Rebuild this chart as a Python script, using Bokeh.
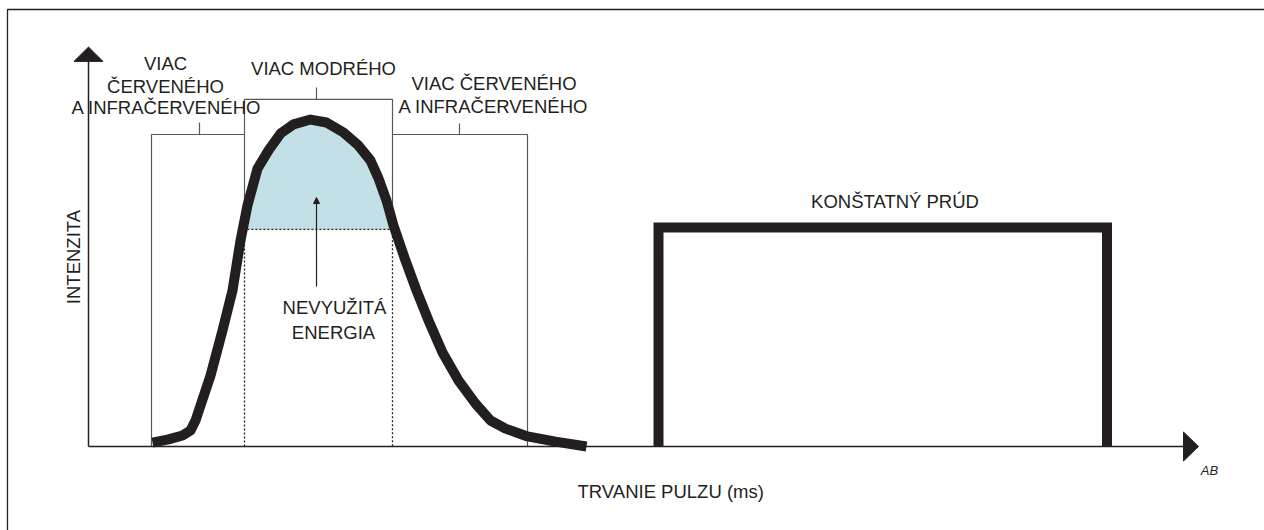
import numpy as np
from bokeh.plotting import figure
from bokeh.models import Range1d, Arrow, NormalHead
from bokeh.core.properties import value
from bokeh.embed import file_html
from bokeh.resources import INLINE

# ---- data (time in ms, relative intensity) ----
pulse_t = [6.4, 8.0, 9.4, 10.2, 10.7, 12.2, 13.4, 14.4, 15.2, 15.9, 16.9, 18.0, 19.2,
           20.5, 22.2, 23.8, 25.5, 27.0, 28.2, 29.0, 29.8, 30.5, 31.7, 32.8, 34.0,
           35.4, 37.0, 38.7, 40.2, 41.7, 43.9, 46.7, 49.8]
pulse_i = [1.2, 2.2, 3.4, 4.9, 8.0, 21.8, 35.7, 48.0, 63.4, 74.2, 85.5, 91.1, 96.3,
           99.1, 100.6, 99.7, 96.6, 92.6, 88.0, 82.5, 75.7, 68.0, 57.2, 48.0, 38.8,
           28.9, 20.3, 13.2, 8.0, 5.5, 3.1, 1.5, 0.0]
unused_level = 66.8
blue_band = [15.6, 30.4]

const_t = [57.0, 57.0, 101.85, 101.85]
const_i = [0.0, 67.4, 67.4, 0.0]

bracket_t = [[6.3, 6.3, 15.6], [15.6, 15.6, 30.4, 30.4], [30.4, 43.9, 43.9]]
bracket_i = [[0.0, 96.0, 96.0], [66.8, 106.8, 106.8, 66.8], [96.0, 96.0, 0.0]]
tick_t = [11.1, 22.8, 37.1]
tick_lo = [96.0, 106.8, 96.0]
tick_hi = [99.7, 110.5, 99.4]

label_text = ["VIAC", "ČERVENÉHO", "A INFRAČERVENÉHO", "VIAC MODRÉHO",
              "VIAC ČERVENÉHO", "A INFRAČERVENÉHO", "KONŠTATNÝ PRÚD",
              "NEVYUŽITÁ", "ENERGIA"]
label_t = [7.7, 7.7, 7.8, 23.5, 40.55, 40.5, 80.65, 24.6, 24.5]
label_i = [117.9, 110.8, 104.4, 116.4, 111.7, 104.7, 75.4, 42.8, 35.1]

x_title = "TRVANIE PULZU (ms)"
y_title = "INTENZITA"

arrow_t = 22.8
arrow_i = [49.2, 76.6]

y_axis_top = 118.5
y_head = 122.9
x_axis_end = 109.5
x_head = 111.0

frame_t = [-8.1, -8.1, 117.6]
frame_i = [-25.85, 134.46, 134.46]

INK = "#231f20"
GREY = "#58595b"
BLUE = "#c3e0e6"
FONT = "Liberation Sans"

p = figure(width=1264, height=530, x_range=Range1d(-8.8, 117.6),
           y_range=Range1d(-25.846, 137.231), output_backend="svg",
           toolbar_location=None, tools="", x_axis_location=None,
           y_axis_location=None, min_border=0, outline_line_color=None,
           background_fill_color="white", border_fill_color="white")
p.grid.visible = False

# page frame
p.line(frame_t, frame_i, line_color=INK, line_width=1.3)

# blue area (energy above the usable level)
t = np.array(pulse_t)
iv = np.array(pulse_i)
above = iv > unused_level
idx = np.where(above)[0]
i0, i1 = idx[0], idx[-1]
tl = np.interp(unused_level, [iv[i0 - 1], iv[i0]], [t[i0 - 1], t[i0]])
tr = np.interp(unused_level, [iv[i1 + 1], iv[i1]], [t[i1 + 1], t[i1]])
fill_t = [tl] + list(t[above]) + [tr]
fill_i = [unused_level] + list(iv[above]) + [unused_level]
p.patch(fill_t, fill_i, fill_color=BLUE, line_color=None)

# dotted usable-energy box
p.line([blue_band[0], blue_band[0], blue_band[1], blue_band[1]],
       [0, unused_level, unused_level, 0], line_color=INK, line_width=1.3,
       line_dash="2 2")

# brackets
p.multi_line(bracket_t, bracket_i, line_color=GREY, line_width=1.2)
p.segment(x0=tick_t, y0=tick_lo, x1=tick_t, y1=tick_hi, line_color=GREY, line_width=1.2)

# axes
p.line([0, 0], [0, y_axis_top], line_color=INK, line_width=1.5)
p.line([0, x_axis_end], [0, 0], line_color=INK, line_width=1.5)
p.patch([-1.45, 0, 1.45], [y_axis_top, y_head, y_axis_top], fill_color=INK, line_color=INK)
p.patch([x_axis_end, x_head, x_axis_end], [4.46, 0, -4.46], fill_color=INK, line_color=INK)

# pulse curve
p.line(pulse_t, pulse_i, line_color=INK, line_width=10, line_join="round", line_cap="butt")

# constant current
p.line(const_t, const_i, line_color=INK, line_width=10, line_join="miter", line_cap="butt")

# pointer arrow
p.add_layout(Arrow(x_start=arrow_t, y_start=arrow_i[0], x_end=arrow_t, y_end=arrow_i[1],
                   line_color=INK, line_width=1.2,
                   end=NormalHead(size=6, fill_color=INK, line_color=INK, line_width=1)))

# labels
p.text(x=label_t, y=label_i, text=label_text, text_align="center",
       text_baseline="alphabetic", text_font=value(FONT), text_font_size="18.5px",
       text_color=INK)
p.text(x=[48.9], y=[-13.85], text=[x_title], text_align="left",
       text_baseline="alphabetic", text_font=value(FONT), text_font_size="18.5px",
       text_color=INK)
p.text(x=[-1.5], y=[58.3], text=[y_title], angle=np.pi / 2, text_align="center",
       text_baseline="alphabetic", text_font=value(FONT), text_font_size="18.5px",
       text_color=INK)
p.text(x=[112.1], y=[-7.4], text=["AB"], text_align="center",
       text_baseline="alphabetic", text_font=value(FONT), text_font_size="13px",
       text_font_style="italic", text_color=INK)

open("out.html", "w").write(file_html(p, INLINE))
